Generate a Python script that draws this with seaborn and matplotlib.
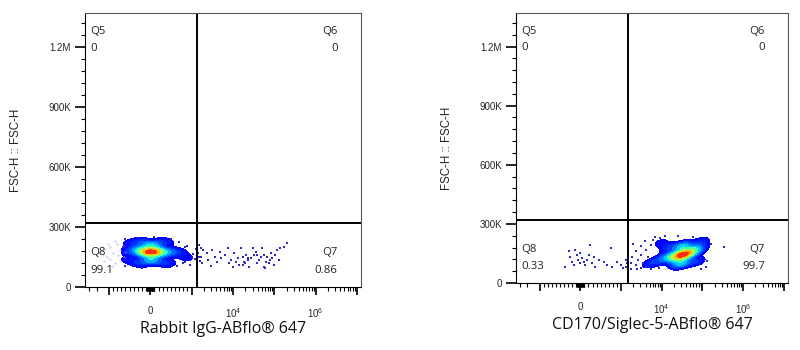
import numpy as np
import pandas as pd
import seaborn as sns
import matplotlib.pyplot as plt
from matplotlib.scale import SymmetricalLogTransform
from matplotlib.colors import LinearSegmentedColormap
from matplotlib.ticker import FixedLocator, FixedFormatter

sns.set_style('white')
plt.rcParams['font.family'] = ['Liberation Sans', 'DejaVu Sans']
plt.rcParams['mathtext.default'] = 'regular'

# logicle-like display: linear below 1000, one decade per 1000 units above
logicle = SymmetricalLogTransform(10, 1000, 0.9)


def tx(v):
    return logicle.transform(np.asarray(v, dtype=float))


# ---- panel info ----
xlabels = ['Rabbit IgG-ABflo® 647', 'CD170/Siglec-5-ABflo® 647']
gate_x = [1320, 1450]
gate_y = [320e3, 320e3]
q5 = ['0', '0']
q6 = ['0', '0']
q7 = ['0.86', '99.7']
q8 = ['99.1', '0.33']

# ---- main populations (fluorescence, FSC-H, relative event weight) ----
iso_x = [24, -143, 214, 24, 24, -310, 450, -260, 330, -260, 380, -500, 690, 880, -550, -500]
iso_y = [175e3, 175e3, 175e3, 210e3, 135e3, 185e3, 175e3, 225e3, 225e3, 120e3, 120e3,
         175e3, 175e3, 145e3, 135e3, 215e3]
iso_w = [30, 15, 15, 12, 12, 6, 6, 4, 4, 4, 4, 3, 3, 2, 2, 2]

pos_x = [3.3e4, 2.1e4, 5.2e4, 3.3e4, 2.9e4, 1.26e4, 7.7e4, 1.5e4, 6.9e4, 7.1e3, 9.2e4, 4.8e3, 9.4e3]
pos_y = [143e3, 133e3, 158e3, 185e3, 100e3, 128e3, 175e3, 180e3, 110e3, 107e3, 210e3, 97e3, 205e3]
pos_w = [30, 15, 15, 12, 12, 6, 6, 4, 4, 3, 3, 2, 2]

# density contour proportions (outer -> inner)
dens_levels = [0.04, 0.09, 0.16, 0.25, 0.36, 0.5, 0.64, 0.78, 0.9, 1.0]

# ---- sparse events ----
iso_dots_x = [1550, 1930, 1700, 1820, 2320, 2540, 2880, 3050, 3660, 4230, 4810, 5260, 6310, 7590,
              7870, 9100, 9980, 10900, 12000, 13100, 14400, 15700, 17300, 18900, 20700, 22700,
              24900, 27200, 29900, 32700, 35800, 39300, 43000, 47100, 51600, 56600, 62000, 67900,
              74500, 81500, 89300, 98000, 107000, 117000, 129000, 141000, 169000, 203000, 19300,
              23500, 17700, 61000, 80000, 58000, 39300, 1100, 1200, 1250, 1350, 1400, 1480, 1600,
              1650, 900, 950, 1000, 850, -600, -300, 100, 500, 700, 850, -620, -200, 300, 650,
              -640, 780]
iso_dots_y = [210e3, 185e3, 152e3, 118e3, 168e3, 135e3, 107e3, 185e3, 152e3, 127e3, 177e3, 143e3,
              160e3, 193e3, 118e3, 135e3, 102e3, 168e3, 127e3, 143e3, 110e3, 193e3, 152e3, 127e3,
              160e3, 135e3, 102e3, 143e3, 193e3, 160e3, 177e3, 118e3, 135e3, 152e3, 193e3, 102e3,
              127e3, 152e3, 118e3, 168e3, 143e3, 110e3, 160e3, 185e3, 135e3, 193e3, 202e3, 222e3,
              118e3, 143e3, 110e3, 93e3, 135e3, 160e3, 160e3, 165e3, 140e3, 190e3, 120e3, 170e3,
              150e3, 130e3, 195e3, 205e3, 110e3, 150e3, 125e3, 240e3, 245e3, 250e3, 240e3, 225e3,
              200e3, 105e3, 95e3, 98e3, 105e3, 200e3, 120e3]

iso_faint_x = [-1640, -1400, -1240, -1100, -976, -976, -900, -857, -800, -780, -738, -700, -650,
               -640, -620, -1300, -1050, -920, -1500, -860]
iso_faint_y = [175e3, 160e3, 190e3, 150e3, 200e3, 140e3, 170e3, 120e3, 215e3, 160e3, 185e3, 130e3,
               205e3, 150e3, 175e3, 130e3, 215e3, 105e3, 200e3, 230e3]

pos_dots_x = [-370, -288, -263, -206, -165, -123, -82, -58, -16, 0, 41, 82, 123, 165, 206, 247,
              288, 329, 370, 453, 576, 658, 741, 782, 905, 988, 1100, 1290, 1290, 1500, 1720,
              1720, 1900, 2280, 2280, 2600, 3030, 3030, 3030, 3500, 4030, 4030, 4600, 5350, 5350,
              2000, 3800, 1400, 2500, 6000, 7000, 8500, 9000, 12000, 25000, 60000, 110000, 130000,
              120000, 90000, 162000, 340000]
pos_dots_y = [83e3, 160e3, 134e3, 109e3, 92e3, 169e3, 143e3, 118e3, 152e3, 101e3, 126e3, 109e3,
              92e3, 118e3, 143e3, 194e3, 101e3, 134e3, 83e3, 118e3, 109e3, 92e3, 177e3, 83e3,
              109e3, 92e3, 75e3, 118e3, 80e3, 143e3, 101e3, 72e3, 130e3, 92e3, 160e3, 118e3, 75e3,
              143e3, 190e3, 101e3, 169e3, 80e3, 130e3, 194e3, 72e3, 200e3, 215e3, 100e3, 70e3,
              220e3, 235e3, 75e3, 230e3, 240e3, 240e3, 235e3, 200e3, 110e3, 80e3, 70e3, 199e3,
              184e3]

pops = [
    dict(x=iso_x, y=iso_y, w=iso_w, dx=iso_dots_x, dy=iso_dots_y, fx=iso_faint_x, fy=iso_faint_y),
    dict(x=pos_x, y=pos_y, w=pos_w, dx=pos_dots_x, dy=pos_dots_y, fx=[], fy=[]),
]

jet = plt.get_cmap('jet')
dens_cmap = LinearSegmentedColormap.from_list('dens', jet(np.linspace(0.11, 0.93, 256)))

fig = plt.figure(figsize=(8, 3.5), dpi=100)
boxes = [[85 / 800, 63 / 350, 276 / 800, 274 / 350],
         [516 / 800, 67 / 350, 272 / 800, 270 / 350]]
ylabel_x = [-0.228, -0.232]

xlim = (-1580, 5100)
major_x = [v for v in [-1e3, 0, 1e3, 1e4, 1e5, 1e6, 1e7] if xlim[0] <= tx(v) <= xlim[1]]
minor_x = []
for s in (-1, 1):
    for d in range(1, 7):
        for k in range(1, 10):
            if k == 1 and d > 2:
                continue
            v = s * k * 10 ** d
            if xlim[0] < tx(v) < xlim[1]:
                minor_x.append(v)
label_map = {0: '0', 1e4: '$10^4$', 1e6: '$10^6$'}

for i, box in enumerate(boxes):
    ax = fig.add_axes(box)
    p = pops[i]
    df = pd.DataFrame({'x': tx(p['x']), 'y': p['y'], 'w': p['w']})
    sns.kdeplot(data=df, x='x', y='y', weights='w', fill=True, cmap=dens_cmap,
                levels=dens_levels, bw_adjust=0.75, ax=ax)
    if p['fx']:
        sns.scatterplot(x=tx(p['fx']), y=p['fy'], color='#a9a9e6', alpha=0.5, s=3,
                        linewidth=0, ax=ax)
    sns.scatterplot(x=tx(p['dx']), y=p['dy'], color='#2a2ac8', s=3.5, marker='s',
                    linewidth=0, ax=ax)

    ax.axvline(tx(gate_x[i]), color='black', lw=1.4)
    ax.axhline(gate_y[i], color='black', lw=1.4)

    ax.set_xlim(*xlim)
    ax.set_ylim(0, 1.37e6)

    ax.xaxis.set_major_locator(FixedLocator(tx(major_x)))
    ax.xaxis.set_major_formatter(FixedFormatter([label_map.get(v, '') for v in major_x]))
    ax.xaxis.set_minor_locator(FixedLocator(tx(minor_x)))
    ax.yaxis.set_major_locator(FixedLocator([0, 3e5, 6e5, 9e5, 1.2e6]))
    ax.yaxis.set_major_formatter(FixedFormatter(['0', '300K', '600K', '900K', '1.2M']))
    ax.yaxis.set_minor_locator(FixedLocator(np.arange(6e4, 1.37e6, 6e4)))
    ax.tick_params(axis='x', which='major', length=6, width=1.2, pad=8, labelsize=7,
                   bottom=True, direction='out', color='black')
    ax.tick_params(axis='x', which='minor', length=3, width=0.8, bottom=True,
                   direction='out', color='black')
    ax.tick_params(axis='y', which='major', length=7, width=1.2, pad=3, labelsize=7,
                   left=True, direction='out', color='black')
    ax.tick_params(axis='y', which='minor', length=3, width=0.8, left=True,
                   direction='out', color='black')
    for sp in ax.spines.values():
        sp.set_color('#555555')
        sp.set_linewidth(0.8)
    ax.spines['left'].set_color('black')
    ax.spines['bottom'].set_color('black')

    ax.set_xlabel(xlabels[i], fontsize=11.5, family=['Open Sans', 'DejaVu Sans'],
                  color='#111111')
    ax.xaxis.set_label_coords(0.5, -0.125)
    ax.set_ylabel('FSC-H :: FSC-H', fontsize=8.3, color='#222222')
    ax.yaxis.set_label_coords(ylabel_x[i], 0.5)

    qfont = dict(fontsize=8.2, family=['Open Sans', 'DejaVu Sans'], color='#222222',
                 transform=ax.transAxes, va='center')
    ax.text(0.018, 0.932, 'Q5', ha='left', **qfont)
    ax.text(0.018, 0.872, q5[i], ha='left', **qfont)
    ax.text(0.915, 0.932, 'Q6', ha='right', **qfont)
    ax.text(0.915, 0.872, q6[i], ha='right', **qfont)
    ax.text(0.018, 0.125, 'Q8', ha='left', **qfont)
    ax.text(0.018, 0.06, q8[i], ha='left', **qfont)
    ax.text(0.915, 0.125, 'Q7', ha='right', **qfont)
    ax.text(0.915, 0.06, q7[i], ha='right', **qfont)

plt.savefig('out.png', dpi=100)
